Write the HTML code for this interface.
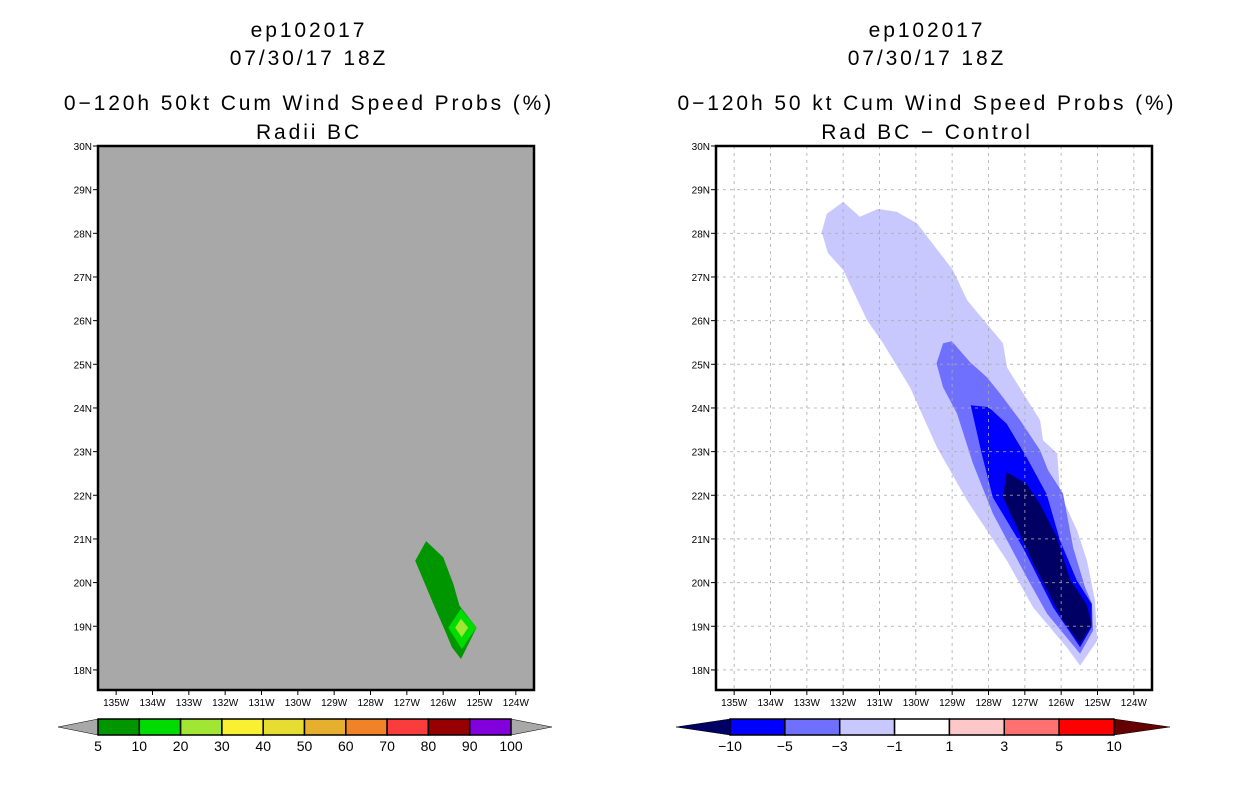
<!DOCTYPE html>
<html><head><meta charset="utf-8"><style>
body{margin:0;background:#fff;width:1236px;height:800px;overflow:hidden;font-family:"Liberation Sans",sans-serif}
svg text{font-family:"Liberation Sans",sans-serif}
</style></head><body>
<svg id="root" width="1236" height="800"></svg>
<script>
// ---- data ----
const lonTicks = [-135,-134,-133,-132,-131,-130,-129,-128,-127,-126,-125,-124];
const latTicks = [18,19,20,21,22,23,24,25,26,27,28,29,30];
const probLevels = ["5","10","20","30","40","50","60","70","80","90","100"];
const probColors = ["#009600","#00dc00","#a0e632","#faf032","#e6dc32","#e6af2d","#f08228","#fa3c3c","#960000","#8200dc"];
const diffLevels = ["\u221210","\u22125","\u22123","\u22121","1","3","5","10"];
const diffColors = ["#0000ff","#7070ff","#c8c8ff","#ffffff","#ffc8c8","#ff7070","#ff0000"];
// probability contours (lon, lat)
const prob5Lon = [-126.47,-126.77,-126.27,-125.95,-125.76,-125.51,-125.08,-125.55,-125.72,-126.0];
const prob5Lat = [20.95,20.50,19.51,18.90,18.52,18.25,18.97,19.47,19.97,20.58];
const prob10Lon = [-125.51,-125.08,-125.49,-125.86];
const prob10Lat = [19.40,18.97,18.48,18.97];
const prob20Lon = [-125.51,-125.31,-125.49,-125.67];
const prob20Lat = [19.17,18.97,18.75,18.97];
// difference contours
const d1Lon = [-132.59,-132.45,-132.0,-131.54,-131.04,-130.52,-129.97,-128.98,-128.59,-127.60,-127.49,-126.58,-126.50,-126.11,-126.03,-125.56,-125.29,-125.07,-125.01,-125.48,-125.84,-126.77,-127.49,-128.59,-129.42,-130.16,-130.90,-131.34,-132.0,-132.42];
const d1Lat = [28.03,28.45,28.72,28.38,28.56,28.49,28.23,27.16,26.47,25.48,24.93,23.72,23.26,22.96,22.04,21.19,20.50,19.59,18.67,18.10,18.51,19.43,20.50,21.88,23.10,24.47,25.48,26.01,27.16,27.55];
const d3Lon = [-129.43,-129.25,-129.01,-128.51,-128.05,-127.68,-127.13,-126.58,-126.36,-125.95,-125.67,-125.34,-125.15,-125.12,-125.48,-126.39,-126.94,-127.88,-128.43,-128.87,-129.25];
const d3Lat = [25.02,25.48,25.53,25.05,24.71,24.33,23.72,23.03,22.57,22.04,20.80,19.89,19.52,18.90,18.37,19.29,20.11,21.58,22.73,23.88,24.47];
const d5Lon = [-128.49,-128.0,-127.50,-126.95,-126.40,-126.03,-125.57,-125.16,-125.16,-125.48,-126.22,-127.05,-127.88,-128.19];
const d5Lat = [24.06,24.02,23.64,22.87,22.03,20.96,20.05,19.51,18.98,18.52,19.43,20.80,21.95,22.96];
const d10Lon = [-127.50,-126.95,-126.58,-126.12,-125.75,-125.30,-125.16,-125.48,-125.95,-126.77,-127.22,-127.60];
const d10Lat = [22.53,22.26,21.80,21.04,20.05,19.51,19.05,18.59,19.13,20.44,21.27,21.95];

const NS="http://www.w3.org/2000/svg";
const root=document.getElementById('root');
function mk(tag,attrs,parent){const e=document.createElementNS(NS,tag);for(const k in attrs)e.setAttribute(k,attrs[k]);(parent||root).appendChild(e);return e;}
const LON0=-135.5,LON1=-123.5,LAT0=17.54,LAT1=30,W=436,H=544,TOP=146;
function panel(x0,name,bg){
  const g=mk('g',{});
  
  
  const xs=lon=>x0+(lon-LON0)/(LON1-LON0)*W;
  const ys=lat=>TOP+(LAT1-lat)/(LAT1-LAT0)*H;
  mk('rect',{x:x0,y:TOP,width:W,height:H,fill:bg},g);
  return {g,xs,ys,x0};
}
function axes(p){
  const g=p.g;
  mk('rect',{x:p.x0,y:TOP,width:W,height:H,fill:'none',stroke:'#000','stroke-width':2.5},g);
  lonTicks.forEach(l=>{const x=p.xs(l);mk('line',{x1:x,x2:x,y1:TOP+H,y2:TOP+H+5,stroke:'#000'},g);
    const t=mk('text',{x:x,y:TOP+H+16,'font-size':10,'text-anchor':'middle'},g);t.textContent=(-l)+'W';
    });
  latTicks.forEach(l=>{const y=p.ys(l);mk('line',{x1:p.x0-5,x2:p.x0,y1:y,y2:y,stroke:'#000'},g);
    const t=mk('text',{x:p.x0-6,y:y+4,'font-size':10,'text-anchor':'end'},g);t.textContent=l+'N';
    });
}
function poly(p,lons,lats,fill,name){
  const pts=lons.map((l,i)=>p.xs(l).toFixed(1)+','+p.ys(lats[i]).toFixed(1)).join(' ');
  const e=mk('polygon',{points:pts,fill:fill},p.g);
  
  
}
function titles(cx,lines,name){
  const ys=[37,65,110,139];
  lines.forEach((s,i)=>{const t=mk('text',{x:cx,y:ys[i],'font-size':21,'text-anchor':'middle','letter-spacing':'2.9'});t.textContent=s;
    
    });
}
function colorbar(x0,x1,tl,tr,colors,labels,lc,rc,name){
  const g=mk('g',{});
  
  
  const y0=719,y1=735,ym=727,w=(x1-x0)/colors.length;
  mk('polygon',{points:`${tl},${ym} ${x0},${y0} ${x0},${y1}`,fill:lc,stroke:'#000','stroke-width':0.5},g);
  mk('polygon',{points:`${tr},${ym} ${x1},${y0} ${x1},${y1}`,fill:rc,stroke:'#000','stroke-width':0.5},g);
  colors.forEach((c,i)=>{const r=mk('rect',{x:x0+i*w,y:y0,width:w,height:y1-y0,fill:c,stroke:'#000','stroke-width':1.5},g);
    });
  labels.forEach((s,i)=>{const t=mk('text',{x:x0+i*w,y:751,'font-size':14,'text-anchor':'middle'},g);t.textContent=s;
    });
}
// left panel
titles(309,["ep102017","07/30/17 18Z","0\u2212120h 50kt Cum Wind Speed Probs (%)","Radii BC"],'left-title');
const L=panel(98,'left-map','#a8a8a8');
poly(L,prob5Lon,prob5Lat,probColors[0],'prob-5-contour');
poly(L,prob10Lon,prob10Lat,probColors[1],'prob-10-contour');
poly(L,prob20Lon,prob20Lat,probColors[2],'prob-20-contour');
axes(L);
colorbar(98,511,58,552,probColors,probLevels,'#a8a8a8','#a8a8a8','left-colorbar');
// right panel
titles(927,["ep102017","07/30/17 18Z","0\u2212120h 50 kt Cum Wind Speed Probs (%)","Rad BC \u2212 Control"],'right-title');
const R=panel(716,'right-map','#ffffff');
poly(R,d1Lon,d1Lat,diffColors[2],'diff-minus1-contour');
poly(R,d3Lon,d3Lat,diffColors[1],'diff-minus3-contour');
poly(R,d5Lon,d5Lat,diffColors[0],'diff-minus5-contour');
poly(R,d10Lon,d10Lat,'#000064','diff-minus10-contour');
lonTicks.forEach(l=>{const x=R.xs(l);const ln=mk('line',{x1:x,x2:x,y1:TOP,y2:TOP+H,stroke:'#aaa','stroke-dasharray':'3,4','stroke-opacity':0.8},R.g);});
latTicks.forEach(l=>{const y=R.ys(l);const ln=mk('line',{x1:716,x2:716+W,y1:y,y2:y,stroke:'#aaa','stroke-dasharray':'3,4','stroke-opacity':0.8},R.g);});
axes(R);
colorbar(730,1114,676,1170,diffColors,diffLevels,'#000064','#640000','right-colorbar');
</script>
</body></html>
